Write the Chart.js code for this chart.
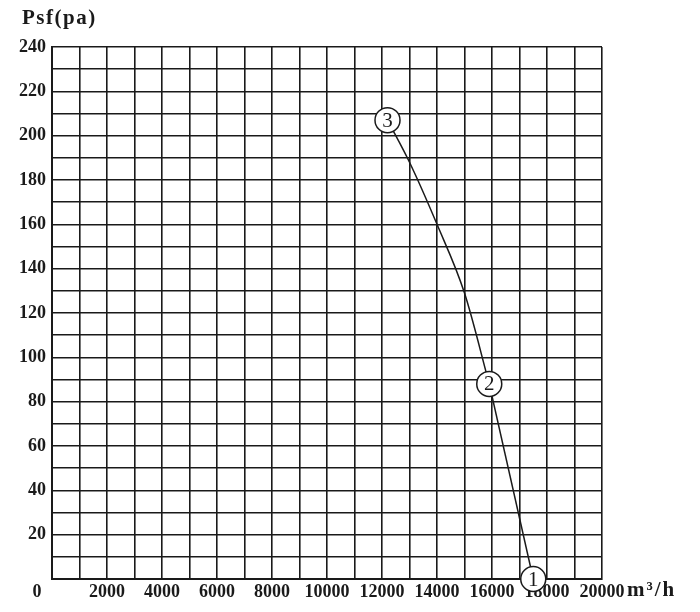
<!DOCTYPE html>
<html>
<head>
<meta charset="utf-8">
<script src="https://cdn.jsdelivr.net/npm/chart.js@4.4.0/dist/chart.umd.min.js"></script>
<style>
  html, body { margin: 0; padding: 0; background: #fff; }
  #wrap { width: 700px; height: 612px; }
</style>
</head>
<body>
<div id="wrap"><canvas id="fanCurve"></canvas></div>
<script>
// curve (flow m3/h, static pressure Pa)
const curveFlow = [12200, 13000, 14000, 15000, 15900];
const curvePress = [207, 188, 160, 129, 88];
const lineFlow = [15900, 17500];
const linePress = [88, 0];
// numbered operating points
const markFlow = [17500, 15900, 12200];
const markPress = [0, 88, 207];
const markLabels = ['1', '2', '3'];

const FONT = '"Liberation Serif", "DejaVu Serif", serif';
const INK = '#1a1a1a';

function toXY(xs, ys) {
    return xs.map((x, i) => ({ x: x, y: ys[i] }));
}

// number inside each circle + the loose texts round the axes
const extraText = {
    id: 'extraText',
    afterDatasetsDraw(chart) {
        const ctx = chart.ctx;
        const area = chart.chartArea;
        ctx.save();
        ctx.fillStyle = INK;
        ctx.textAlign = 'center';
        ctx.textBaseline = 'middle';
        ctx.font = '21px ' + FONT;
        const meta = chart.getDatasetMeta(2);
        meta.data.forEach((pt, i) => {
            ctx.fillText(markLabels[i], pt.x, pt.y + 1);
        });

        ctx.font = 'bold 18px ' + FONT;
        ctx.fillText('0', area.left - 15, area.bottom + 13);
        ctx.textAlign = 'left';
        ctx.font = 'bold 21px ' + FONT;
        ctx.letterSpacing = '2px';
        ctx.fillText('m³/h', area.right + 25, area.bottom + 12);
        ctx.letterSpacing = '1.5px';
        ctx.fillText('Psf(pa)', 22, 19);
        ctx.restore();
    }
};

const fan_curve = document.getElementById('fanCurve');
const fanCurve = new Chart(fan_curve, {
    type: 'scatter',
    data: {
        datasets: [{
            type: 'line',
            order: 1,
            data: toXY(curveFlow, curvePress),
            borderColor: INK,
            borderWidth: 1.5,
            pointRadius: 0,
            cubicInterpolationMode: 'monotone',
        }, {
            type: 'line',
            order: 1,
            data: toXY(lineFlow, linePress),
            borderColor: INK,
            borderWidth: 1.5,
            pointRadius: 0,
            tension: 0,
        }, {
            order: 0,
            data: toXY(markFlow, markPress),
            pointRadius: 12.5,
            pointBackgroundColor: '#fff',
            pointBorderColor: INK,
            pointBorderWidth: 1.5,
            clip: false,
        }]
    },
    options: {
        responsive: true,
        maintainAspectRatio: false,
        animation: false,
        events: [],
        layout: { padding: { left: 0, right: 98, top: 47, bottom: 0 } },
        plugins: {
            legend: { display: false },
            tooltip: { enabled: false },
        },
        scales: {
            x: {
                type: 'linear',
                min: 0,
                max: 20000,
                afterFit(scale) { scale.height = 33; },
                border: { color: INK, width: 2 },
                grid: { color: INK, lineWidth: 1.6, drawTicks: false },
                ticks: {
                    stepSize: 1000,
                    padding: 3,
                    color: INK,
                    maxRotation: 0,
                    autoSkip: false,
                    font: { family: FONT, size: 18, weight: 'bold' },
                    callback: v => (v % 2000 === 0 && v !== 0) ? String(v) : '',
                },
            },
            y: {
                min: 0,
                max: 240,
                afterFit(scale) { scale.width = 52; },
                border: { color: INK, width: 2 },
                grid: { color: INK, lineWidth: 1.6, drawTicks: false },
                ticks: {
                    stepSize: 10,
                    padding: 6,
                    color: INK,
                    autoSkip: false,
                    font: { family: FONT, size: 18, weight: 'bold' },
                    callback: v => (v % 20 === 0 && v !== 0) ? String(v) : '',
                },
            },
        },
    },
    plugins: [extraText],
});
</script>
</body>
</html>
